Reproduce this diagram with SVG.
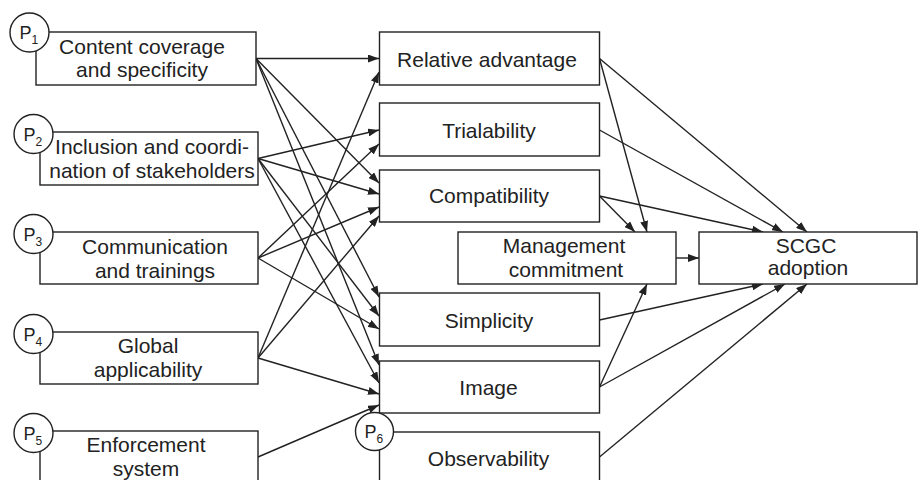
<svg xmlns="http://www.w3.org/2000/svg" width="918" height="480" viewBox="0 0 918 480">
<style>
.box{fill:#fff;stroke:#222;stroke-width:1.4}
.c{fill:#fff;stroke:#222;stroke-width:1.4}
.t{font-family:"Liberation Sans",Arial,Helvetica,sans-serif;font-size:21px;fill:#222;text-anchor:middle}
.p{font-family:"Liberation Sans",Arial,Helvetica,sans-serif;font-size:18px;fill:#222}
.s{font-size:12px}
.e{stroke:#222;stroke-width:1.4;fill:none;marker-end:url(#ah)}
</style>
<defs>
<marker id="ah" markerUnits="userSpaceOnUse" markerWidth="11" markerHeight="8" refX="11" refY="4" orient="auto">
<path d="M0,0 L11,4 L0,8 z" fill="#222"/>
</marker>
</defs>
<rect width="918" height="480" fill="#fff"/>

<g id="connectors">
<line class="e" x1="256" y1="58.5" x2="379" y2="58.5"/>
<line class="e" x1="256" y1="58.5" x2="379" y2="183"/>
<line class="e" x1="256" y1="58.5" x2="379" y2="297"/>
<line class="e" x1="256" y1="58.5" x2="379" y2="365"/>
<line class="e" x1="258" y1="158.5" x2="379" y2="130"/>
<line class="e" x1="258" y1="158.5" x2="379" y2="194"/>
<line class="e" x1="258" y1="158.5" x2="379" y2="316"/>
<line class="e" x1="258" y1="158.5" x2="379" y2="383"/>
<line class="e" x1="258" y1="258" x2="379" y2="144"/>
<line class="e" x1="258" y1="258" x2="379" y2="207"/>
<line class="e" x1="258" y1="258" x2="379" y2="329"/>
<line class="e" x1="258" y1="358" x2="379" y2="72"/>
<line class="e" x1="258" y1="358" x2="379" y2="216"/>
<line class="e" x1="258" y1="358" x2="379" y2="394"/>
<line class="e" x1="258" y1="457" x2="379" y2="405"/>
<line class="e" x1="599.5" y1="58.5" x2="647" y2="232"/>
<line class="e" x1="599.5" y1="58.5" x2="807" y2="232"/>
<line class="e" x1="599.5" y1="130" x2="783" y2="232"/>
<line class="e" x1="599.5" y1="196" x2="635" y2="232"/>
<line class="e" x1="599.5" y1="196" x2="763" y2="232"/>
<line class="e" x1="676" y1="258" x2="699" y2="258"/>
<line class="e" x1="599.5" y1="320" x2="763" y2="284"/>
<line class="e" x1="599.5" y1="387" x2="647" y2="284"/>
<line class="e" x1="599.5" y1="387" x2="785" y2="284"/>
<line class="e" x1="599.5" y1="457" x2="807" y2="284"/>
</g>

<g id="p1">
<rect class="box" x="36" y="32" width="220" height="53"/>
<circle class="c" cx="29.5" cy="32.5" r="19.5"/>
<text class="p" x="19.5" y="39">P<tspan class="s" dy="5">1</tspan></text>
<text class="t" x="142" y="54">Content coverage</text>
<text class="t" x="142" y="77">and specificity</text>
</g>
<g id="p2">
<rect class="box" x="40" y="132" width="218" height="53"/>
<circle class="c" cx="33.5" cy="134" r="19.5"/>
<text class="p" x="23.5" y="140.5">P<tspan class="s" dy="5">2</tspan></text>
<text class="t" x="152" y="154">Inclusion and coordi-</text>
<text class="t" x="152" y="178">nation of stakeholders</text>
</g>
<g id="p3">
<rect class="box" x="40" y="232" width="218" height="52"/>
<circle class="c" cx="33.5" cy="234" r="19.5"/>
<text class="p" x="23.5" y="240.5">P<tspan class="s" dy="5">3</tspan></text>
<text class="t" x="155" y="254">Communication</text>
<text class="t" x="155" y="278">and trainings</text>
</g>
<g id="p4">
<rect class="box" x="40" y="332" width="218" height="52"/>
<circle class="c" cx="33.5" cy="334" r="19.5"/>
<text class="p" x="23.5" y="340.5">P<tspan class="s" dy="5">4</tspan></text>
<text class="t" x="148" y="353">Global</text>
<text class="t" x="148" y="377">applicability</text>
</g>
<g id="p5">
<rect class="box" x="40" y="431" width="218" height="70"/>
<circle class="c" cx="33.5" cy="433" r="19.5"/>
<text class="p" x="23.5" y="439.5">P<tspan class="s" dy="5">5</tspan></text>
<text class="t" x="146" y="452">Enforcement</text>
<text class="t" x="146" y="476">system</text>
</g>

<g id="relative-advantage">
<rect class="box" x="379.5" y="32" width="220" height="53"/>
<text class="t" x="487" y="66.5">Relative advantage</text>
</g>
<g id="trialability">
<rect class="box" x="379.5" y="103" width="220" height="53"/>
<text class="t" x="489" y="138">Trialability</text>
</g>
<g id="compatibility">
<rect class="box" x="379.5" y="170" width="220" height="52"/>
<text class="t" x="489" y="203">Compatibility</text>
</g>
<g id="management-commitment">
<rect class="box" x="458" y="232" width="218" height="52"/>
<text class="t" x="564" y="253">Management</text>
<text class="t" x="566" y="277">commitment</text>
</g>
<g id="simplicity">
<rect class="box" x="379.5" y="293" width="220" height="53"/>
<text class="t" x="489" y="328">Simplicity</text>
</g>
<g id="image">
<rect class="box" x="379.5" y="361" width="220" height="52"/>
<text class="t" x="488.5" y="395">Image</text>
</g>
<g id="observability">
<rect class="box" x="379.5" y="432" width="220" height="70"/>
<circle class="c" cx="374.5" cy="431.5" r="19"/>
<text class="p" x="364.5" y="438">P<tspan class="s" dy="5">6</tspan></text>
<text class="t" x="488.5" y="466">Observability</text>
</g>
<g id="scgc-adoption">
<rect class="box" x="699" y="232" width="218" height="52"/>
<text class="t" x="806" y="253">SCGC</text>
<text class="t" x="808" y="275">adoption</text>
</g>
</svg>
